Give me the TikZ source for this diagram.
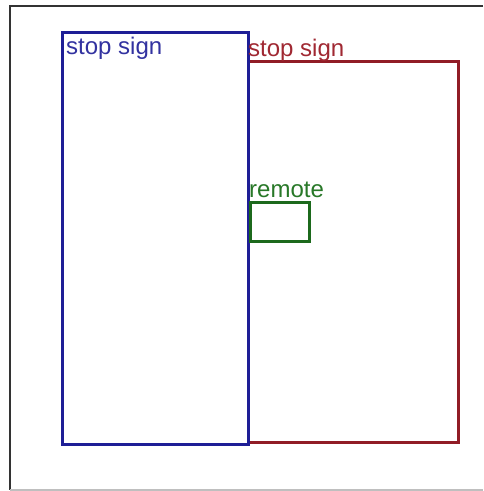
\documentclass[tikz,border=0pt]{standalone}
\usepackage{fontspec}
\setmainfont{Liberation Sans}
\definecolor{boxblue}{RGB}{30,30,150}
\definecolor{boxred}{RGB}{145,28,38}
\definecolor{boxgreen}{RGB}{28,105,28}
\definecolor{txtblue}{RGB}{50,50,160}
\definecolor{txtred}{RGB}{160,40,50}
\definecolor{txtgreen}{RGB}{40,120,40}
\begin{document}
\begin{tikzpicture}[x=1pt,y=-1pt,
  bbox/.style={draw,line width=3pt,rectangle,inner sep=0pt,anchor=center},
  lbl/.style={inner sep=0pt,anchor=base west,font=\fontsize{24}{26}\selectfont}]
\useasboundingbox (0,0) rectangle (483,491);
\fill[white] (0,0) rectangle (483,491);
\coordinate (tl) at (10,6);
\coordinate (tr) at (483,6);
\coordinate (bl) at (10,490);
\coordinate (br) at (483,490);
\draw[line width=2.5pt,black!80] (tr) -- (tl) -- (bl);
\draw[line width=1.5pt,black!25] (bl) -- (br);
\node[bbox,draw=boxred,minimum width=210pt,minimum height=381pt] (red) at (353,251.5) {};
\node[bbox,draw=boxblue,minimum width=186pt,minimum height=412pt] (blue) at (155,238) {};
\node[bbox,draw=boxgreen,minimum width=59pt,minimum height=39pt] (green) at (279.5,221.5) {};
\node[lbl,text=txtblue] (tblue) at (66,54) {stop sign};
\node[lbl,text=txtred] (tred) at (248,56) {stop sign};
\node[lbl,text=txtgreen] (tgreen) at (249,197) {remote};
\end{tikzpicture}
\end{document}
